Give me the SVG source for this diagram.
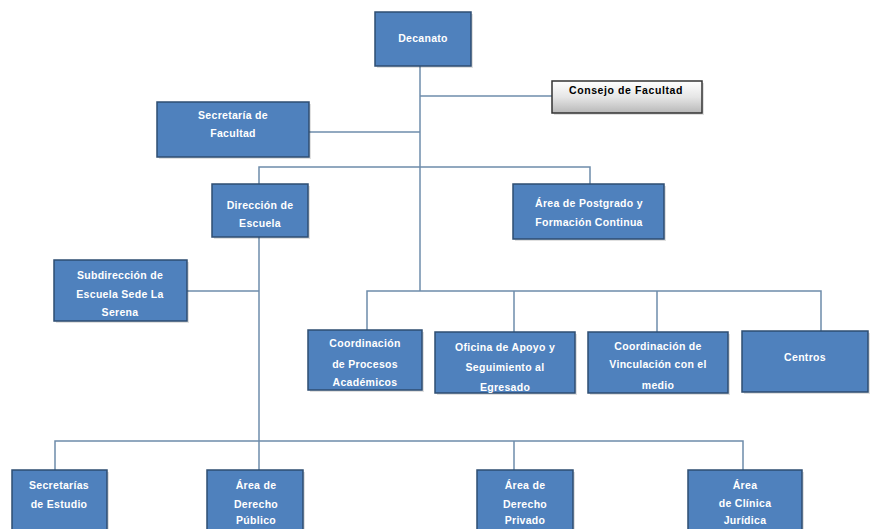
<svg xmlns="http://www.w3.org/2000/svg" width="871" height="529" viewBox="0 0 871 529">
<style>
.box{fill:#4F81BD;stroke:#2E4D72;stroke-width:1.5}
.sh{fill:#000;opacity:0.12}
.t{font-family:"Liberation Sans",Arial,sans-serif;font-size:10.5px;font-weight:bold;fill:#FFFFFF;text-anchor:middle;letter-spacing:0.3px}
.tk{font-family:"Liberation Sans",Arial,sans-serif;font-size:10.5px;font-weight:bold;fill:#000000;text-anchor:middle;letter-spacing:0.6px}
.ln{stroke:#6E8CAB;stroke-width:1.5;fill:none}
</style>
<defs>
<linearGradient id="gr" x1="0" y1="0" x2="0" y2="1">
<stop offset="0" stop-color="#FFFFFF"/>
<stop offset="0.5" stop-color="#E6E6E6"/>
<stop offset="1" stop-color="#B8B8B8"/>
</linearGradient>
</defs>
<rect width="871" height="529" fill="#FFFFFF"/>
<g id="connectors">
<path class="ln" d="M420 66 V291"/>
<path class="ln" d="M420 96 H552"/>
<path class="ln" d="M309 132 H420"/>
<path class="ln" d="M259 184 V167 H590 V184"/>
<path class="ln" d="M259 237 V470"/>
<path class="ln" d="M187 291 H259"/>
<path class="ln" d="M367 330 V291 H821 V331"/>
<path class="ln" d="M514 291 V332"/>
<path class="ln" d="M657 291 V332"/>
<path class="ln" d="M55 470 V441 H743 V470"/>
<path class="ln" d="M514 441 V470"/>
</g>
<g id="decanato">
<rect class="sh" x="377" y="14" width="96" height="54"/>
<rect class="box" x="375" y="12" width="96" height="54"/>
<text class="t" x="423" y="42">Decanato</text>
</g>
<g id="consejo">
<rect class="sh" x="554" y="83" width="150" height="32"/>
<rect x="552" y="81" width="150" height="32" fill="url(#gr)" stroke="#333333" stroke-width="1.5"/>
<text class="tk" x="626" y="94">Consejo de Facultad</text>
</g>
<g id="secretaria">
<rect class="sh" x="159" y="104" width="152" height="55"/>
<rect class="box" x="157" y="102" width="152" height="55"/>
<text class="t" x="233" y="119">Secretaría de</text>
<text class="t" x="233" y="137">Facultad</text>
</g>
<g id="direccion">
<rect class="sh" x="214" y="186" width="96" height="53"/>
<rect class="box" x="212" y="184" width="96" height="53"/>
<text class="t" x="260" y="209">Dirección de</text>
<text class="t" x="260" y="227">Escuela</text>
</g>
<g id="postgrado">
<rect class="sh" x="515" y="186" width="151" height="55"/>
<rect class="box" x="513" y="184" width="151" height="55"/>
<text class="t" x="589" y="207">Área de Postgrado y</text>
<text class="t" x="589" y="226">Formación Continua</text>
</g>
<g id="subdireccion">
<rect class="sh" x="56" y="262" width="133" height="61"/>
<rect class="box" x="54" y="260" width="133" height="61"/>
<text class="t" x="120" y="279">Subdirección de</text>
<text class="t" x="120" y="298">Escuela Sede La</text>
<text class="t" x="120" y="316">Serena</text>
</g>
<g id="coord-procesos">
<rect class="sh" x="310" y="332" width="114" height="60"/>
<rect class="box" x="308" y="330" width="114" height="60"/>
<text class="t" x="365" y="347">Coordinación</text>
<text class="t" x="365" y="368">de Procesos</text>
<text class="t" x="365" y="386">Académicos</text>
</g>
<g id="oficina">
<rect class="sh" x="437" y="334" width="140" height="61"/>
<rect class="box" x="435" y="332" width="140" height="61"/>
<text class="t" x="505" y="351">Oficina de Apoyo y</text>
<text class="t" x="505" y="371">Seguimiento al</text>
<text class="t" x="505" y="391">Egresado</text>
</g>
<g id="coord-vinculacion">
<rect class="sh" x="590" y="334" width="140" height="61"/>
<rect class="box" x="588" y="332" width="140" height="61"/>
<text class="t" x="658" y="350">Coordinación de</text>
<text class="t" x="658" y="368">Vinculación con el</text>
<text class="t" x="658" y="389">medio</text>
</g>
<g id="centros">
<rect class="sh" x="744" y="333" width="126" height="61"/>
<rect class="box" x="742" y="331" width="126" height="61"/>
<text class="t" x="805" y="361">Centros</text>
</g>
<g id="secretarias-estudio">
<rect class="sh" x="14" y="472" width="95" height="62"/>
<rect class="box" x="12" y="470" width="95" height="62"/>
<text class="t" x="59" y="489">Secretarías</text>
<text class="t" x="59" y="508">de Estudio</text>
</g>
<g id="derecho-publico">
<rect class="sh" x="209" y="472" width="96" height="62"/>
<rect class="box" x="207" y="470" width="96" height="62"/>
<text class="t" x="256" y="489">Área de</text>
<text class="t" x="256" y="508">Derecho</text>
<text class="t" x="256" y="524">Público</text>
</g>
<g id="derecho-privado">
<rect class="sh" x="479" y="472" width="96" height="62"/>
<rect class="box" x="477" y="470" width="96" height="62"/>
<text class="t" x="525" y="489">Área de</text>
<text class="t" x="525" y="508">Derecho</text>
<text class="t" x="525" y="524">Privado</text>
</g>
<g id="clinica-juridica">
<rect class="sh" x="690" y="472" width="114" height="62"/>
<rect class="box" x="688" y="470" width="114" height="62"/>
<text class="t" x="745" y="489">Área</text>
<text class="t" x="745" y="507">de Clínica</text>
<text class="t" x="745" y="524">Jurídica</text>
</g>
</svg>
